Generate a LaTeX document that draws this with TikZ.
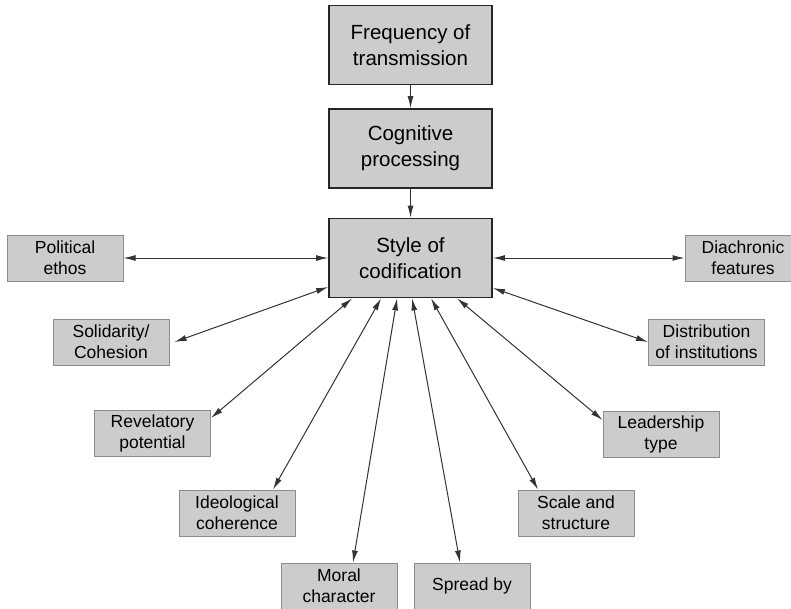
\documentclass[tikz,border=0pt]{standalone}
\usepackage{fontspec}
\setmainfont{Liberation Sans}
\usetikzlibrary{arrows.meta, positioning}

\tikzset{
  factor/.style={draw=black!45, line width=1pt, fill=black!20, minimum width=116pt,
    minimum height=46pt, align=center, inner sep=0pt, font=\fontsize{17.5}{21}\selectfont},
  core/.style={factor, draw=black!85, line width=1.8pt, minimum width=163pt,
    minimum height=79pt, font=\fontsize{20.5}{26}\selectfont},
  link/.style={draw=black!80, line width=1pt, {Latex[length=12pt,width=6pt]}-{Latex[length=12pt,width=6pt]}},
  feed/.style={draw=black!80, line width=1pt, -{Latex[length=12pt,width=6pt]}}
}

\begin{document}
\begin{tikzpicture}[x=1pt, y=-1pt]
  \useasboundingbox (0,0) rectangle (791,608);

  \node[core] (freq) at (410.5,45) {Frequency of\\transmission};
  \node[core] (cog) at (410.5,148.5) {Cognitive\\processing};
  \node[core] (codif) at (410.5,258) {Style of\\codification};
  \draw[feed] (freq) -- (cog);
  \draw[feed] (cog) -- (codif);

  % left side
  \node[factor] (ethos) at (65,258) {Political\\ethos};
  \node[factor] (solid) at (111,342) {Solidarity/\\Cohesion};
  \node[factor] (revel) at (152.5,433) {Revelatory\\potential};
  \node[factor] (ideo) at (237,513) {Ideological\\coherence};
  \node[factor] (moral) at (339,586) {Moral\\character};
  % right side
  \node[factor] (spread) at (472,586) {Spread by};
  \node[factor] (scale) at (576,513) {Scale and\\structure};
  \node[factor] (lead) at (661,434) {Leadership\\type};
  \node[factor] (distr) at (706.5,342) {Distribution\\of institutions};
  \node[factor] (diach) at (743,258) {Diachronic\\features};

  \draw[link] (ethos.east) -- (codif.west);
  \draw[link] ([xshift=5pt]solid.east) -- ([yshift=-29pt]codif.west);
  \draw[link] ([yshift=15pt]revel.east) -- ([xshift=24pt]codif.south west);
  \draw[link] ([xshift=36pt]ideo.north) -- ([xshift=53pt]codif.south west);
  \draw[link] ([xshift=14pt]moral.north) -- ([xshift=69pt]codif.south west);
  \draw[link] ([xshift=-12pt]spread.north) -- ([xshift=84pt]codif.south west);
  \draw[link] ([xshift=-38pt]scale.north) -- ([xshift=103pt]codif.south west);
  \draw[link] ([yshift=14pt]lead.west) -- ([xshift=129pt]codif.south west);
  \draw[link] (distr.west) -- ([yshift=-30pt]codif.east);
  \draw[link] (diach.west) -- (codif.east);
\end{tikzpicture}
\end{document}
